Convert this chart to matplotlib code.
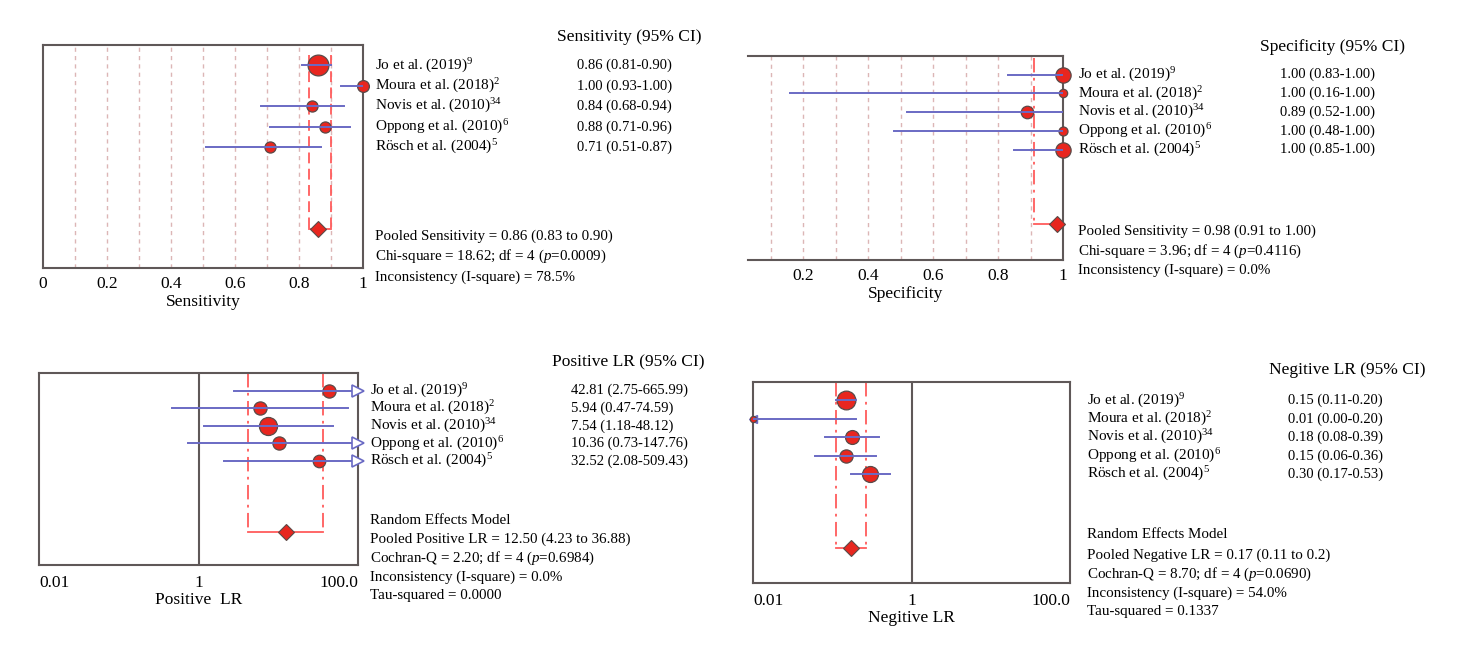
import matplotlib
matplotlib.use("Agg")
import matplotlib.pyplot as plt
import matplotlib.transforms as mtrans

plt.rcParams["font.family"] = ["Liberation Serif", "DejaVu Serif"]
plt.rcParams["mathtext.fontset"] = "custom"
plt.rcParams["mathtext.rm"] = "Liberation Serif"
plt.rcParams["mathtext.it"] = "Liberation Serif:italic"

W, H = 1459, 650

studies = ["Jo et al. (2019)", "Moura et al. (2018)", "Novis et al. (2010)",
           "Oppong et al. (2010)", "Rösch et al. (2004)"]
refs = ["9", "2", "34", "6", "5"]

sens = [0.86, 1.00, 0.84, 0.88, 0.71]
sens_lo = [0.81, 0.93, 0.68, 0.71, 0.51]
sens_hi = [0.90, 1.00, 0.94, 0.96, 0.87]
sens_pool = (0.86, 0.83, 0.90)
sens_txt = ["0.86 (0.81-0.90)", "1.00 (0.93-1.00)", "0.84 (0.68-0.94)",
            "0.88 (0.71-0.96)", "0.71 (0.51-0.87)"]
sens_size = [15, 8.5, 8, 8, 8]

spec = [1.00, 1.00, 0.89, 1.00, 1.00]
spec_lo = [0.83, 0.16, 0.52, 0.48, 0.85]
spec_hi = [1.00, 1.00, 1.00, 1.00, 1.00]
spec_pool = (0.98, 0.91, 1.00)
spec_txt = ["1.00 (0.83-1.00)", "1.00 (0.16-1.00)", "0.89 (0.52-1.00)",
            "1.00 (0.48-1.00)", "1.00 (0.85-1.00)"]
spec_size = [11, 6, 9, 6.5, 11]

plr = [42.81, 5.94, 7.54, 10.36, 32.52]
plr_lo = [2.75, 0.47, 1.18, 0.73, 2.08]
plr_hi = [665.99, 74.59, 48.12, 147.76, 509.43]
plr_pool = (12.50, 4.23, 36.88)
plr_txt = ["42.81 (2.75-665.99)", "5.94 (0.47-74.59)", "7.54 (1.18-48.12)",
           "10.36 (0.73-147.76)", "32.52 (2.08-509.43)"]
plr_size = [9.5, 9.5, 13, 9.5, 9]

nlr = [0.15, 0.01, 0.18, 0.15, 0.30]
nlr_lo = [0.11, 0.00, 0.08, 0.06, 0.17]
nlr_hi = [0.20, 0.20, 0.39, 0.36, 0.53]
nlr_pool = (0.17, 0.11, 0.27)
nlr_txt = ["0.15 (0.11-0.20)", "0.01 (0.00-0.20)", "0.18 (0.08-0.39)",
           "0.15 (0.06-0.36)", "0.30 (0.17-0.53)"]
nlr_size = [13.5, 4.5, 10, 9.5, 11.5]

RED = "#e8261f"
EDGE = "#5a4a48"
BLUE = "#6a6ac4"
PINK = "#ff5c5c"
GRID = "#dcb6b6"
SPINE = "#5f5858"


def fx(x):
    return x / W


def fy(y):
    return 1 - y / H


fig = plt.figure(figsize=(W / 100, H / 100), dpi=100)
fig.patch.set_facecolor("white")


def make_ax(l, t, r, b):
    return fig.add_axes([fx(l), fy(b), fx(r) - fx(l), (b - t) / H])


def forest(ax, vals, lo, hi, sizes, pool, xmin, xmax, pool_ls, pool_top, log=False):
    rows = list(range(1, len(vals) + 1))
    for y, v, a, b, s in zip(rows, vals, lo, hi, sizes):
        a2 = max(a, xmin)
        b2 = min(b, xmax)
        ax.plot([a2, b2], [y, y], color=BLUE, lw=1.4, zorder=5)
        ax.plot([v], [y], "o", ms=s, mfc=RED, mec=EDGE, mew=0.9, zorder=4, clip_on=False)
        if log and b > xmax:
            ax.plot([xmax], [y], ">", ms=8, mfc="white", mec=BLUE, mew=1.2, zorder=5, clip_on=False)
        if log and a < xmin:
            ax.plot([xmin], [y], "<", ms=6, mfc=BLUE, mec=BLUE, mew=1.0, zorder=3, clip_on=False)
    py = 9
    est, plo, phi = pool
    ax.plot([plo, plo], [pool_top, py], color=PINK, lw=1.3, ls=pool_ls, zorder=2)
    ax.plot([phi, phi], [pool_top, py], color=PINK, lw=1.3, ls=pool_ls, zorder=2, clip_on=False)
    ax.plot([plo, phi], [py, py], color=PINK, lw=1.3, zorder=2, clip_on=False)
    ax.plot([est], [py], "D", ms=8, mfc=RED, mec=EDGE, mew=0.8, zorder=4, clip_on=False)
    ax.set_ylim(10.9, 0)
    ax.set_xlim(xmin, xmax)
    ax.set_yticks([])
    ax.tick_params(axis="x", length=0, labelsize=12.5)
    for sp in ax.spines.values():
        sp.set_color(SPINE)
        sp.set_linewidth(1.5)


def side_text(ax, xl, xv, vals_txt):
    tr = mtrans.blended_transform_factory(fig.transFigure, ax.transData)
    for i, (st, rf, vt) in enumerate(zip(studies, refs, vals_txt)):
        y = i + 1
        ax.text(fx(xl), y, st + r"$^{\mathregular{" + rf + "}}$", transform=tr,
                fontsize=11, va="center", ha="left")
        ax.text(fx(xv), y, vt, transform=tr, fontsize=10.5, va="center", ha="left")


def block(x, ys, lines):
    for y, s in zip(ys, lines):
        fig.text(fx(x), fy(y), s, fontsize=10.8, va="center", ha="left")


# --- Sensitivity ---
ax1 = make_ax(43, 45, 363, 268)
for g in [0.1, 0.2, 0.3, 0.4, 0.5, 0.6, 0.7, 0.8, 0.9]:
    ax1.axvline(g, color=GRID, lw=1.0, ls=(0, (3, 3)), zorder=1)
forest(ax1, sens, sens_lo, sens_hi, sens_size, sens_pool, 0, 1, (0, (6, 3)), 0.5)
ax1.set_xticks([0, 0.2, 0.4, 0.6, 0.8, 1.0])
ax1.set_xticklabels(["0", "0.2", "0.4", "0.6", "0.8", "1"])
ax1.tick_params(axis="x", pad=6)
ax1.set_xlabel("Sensitivity", fontsize=12.5, labelpad=1)
side_text(ax1, 375, 577, sens_txt)
fig.text(fx(557), fy(37), "Sensitivity (95% CI)", fontsize=12.5, va="center")
block(375, [236, 256, 277], ["Pooled Sensitivity = 0.86 (0.83 to 0.90)",
                             "Chi-square = 18.62; df = 4 ($\\mathit{p}$=0.0009)",
                             "Inconsistency (I-square) = 78.5%"])

# --- Specificity ---
ax2 = make_ax(748, 56, 1063, 260)
for g in [0.1, 0.2, 0.3, 0.4, 0.5, 0.6, 0.7, 0.8, 0.9]:
    ax2.axvline(g, color=GRID, lw=1.0, ls=(0, (3, 3)), zorder=1)
forest(ax2, spec, spec_lo, spec_hi, spec_size, spec_pool, 0.03, 1.0, (0, (8, 3, 1.5, 3)), 0.1)
ax2.spines["left"].set_visible(False)
ax2.set_xticks([0.2, 0.4, 0.6, 0.8, 1.0])
ax2.set_xticklabels(["0.2", "0.4", "0.6", "0.8", "1"])
ax2.tick_params(axis="x", pad=6)
ax2.set_xlabel("Specificity", fontsize=12.5, labelpad=1)
side_text(ax2, 1078, 1280, spec_txt)
fig.text(fx(1260), fy(47), "Specificity (95% CI)", fontsize=12.5, va="center")
block(1078, [231, 251, 270], ["Pooled Sensitivity = 0.98 (0.91 to 1.00)",
                              "Chi-square = 3.96; df = 4 ($\\mathit{p}$=0.4116)",
                              "Inconsistency (I-square) = 0.0%"])


def lr_axis(ax, label):
    ax.set_xscale("log")
    ax.set_xlim(0.01, 100)
    ax.minorticks_off()
    ax.set_xticks([0.01, 1, 100])
    ax.set_xticklabels(["0.01", "1", "100.0"])
    lbls = ax.get_xticklabels()
    lbls[0].set_ha("left")
    lbls[2].set_ha("right")
    ax.axvline(1, color=SPINE, lw=1.5, zorder=1)
    ax.tick_params(axis="x", pad=7)
    ax.set_xlabel(label, fontsize=12.5, labelpad=1)


# --- Positive LR ---
ax3 = make_ax(39, 373, 358, 565)
forest(ax3, plr, plr_lo, plr_hi, plr_size, plr_pool, 0.01, 100, (0, (8, 3, 1.5, 3)), 0, log=True)
lr_axis(ax3, "Positive  LR")
side_text(ax3, 370, 571, plr_txt)
fig.text(fx(552), fy(362), "Positive LR (95% CI)", fontsize=12.5, va="center")
block(370, [520, 539, 558, 577, 596], ["Random Effects Model",
                                       "Pooled Positive LR = 12.50 (4.23 to 36.88)",
                                       "Cochran-Q = 2.20; df = 4 ($\\mathit{p}$=0.6984)",
                                       "Inconsistency (I-square) = 0.0%",
                                       "Tau-squared = 0.0000"])

# --- Negative LR ---
ax4 = make_ax(753, 382, 1070, 583)
forest(ax4, nlr, nlr_lo, nlr_hi, nlr_size, nlr_pool, 0.01, 100, (0, (8, 3, 1.5, 3)), 0, log=True)
lr_axis(ax4, "Negitive LR")
side_text(ax4, 1087, 1288, nlr_txt)
fig.text(fx(1269), fy(370), "Negitive LR (95% CI)", fontsize=12.5, va="center")
block(1087, [535, 555, 574, 593, 612], ["Random Effects Model",
                                        "Pooled Negative LR = 0.17 (0.11 to 0.2)",
                                        "Cochran-Q = 8.70; df = 4 ($\\mathit{p}$=0.0690)",
                                        "Inconsistency (I-square) = 54.0%",
                                        "Tau-squared = 0.1337"])

fig.savefig("out.png", dpi=100, facecolor="white")
